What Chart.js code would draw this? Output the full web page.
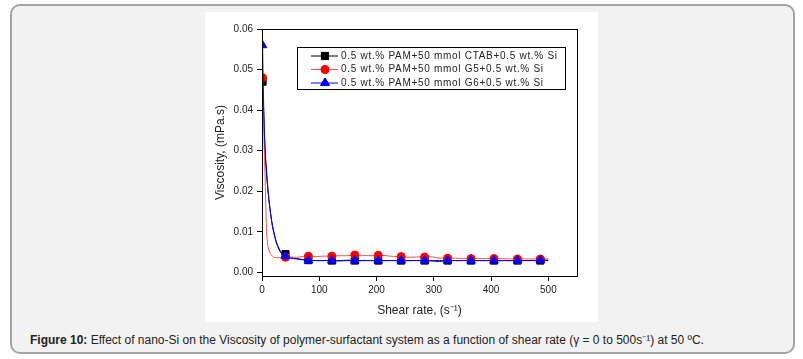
<!DOCTYPE html>
<html>
<head>
<meta charset="utf-8">
<script src="https://cdn.jsdelivr.net/npm/chart.js@4.4.1/dist/chart.umd.min.js"></script>
<style>
  body { margin: 0; background: #ffffff; width: 803px; height: 359px; overflow: hidden; position: relative; font-family: "Liberation Sans", Arial, sans-serif; }
  #panel { position: absolute; left: 10px; top: 4px; width: 781px; height: 346px; border: 2px solid #a3a3a3; border-radius: 10px; background: #f2f2f2; }
  #plotbox { position: absolute; left: 205px; top: 12px; width: 393px; height: 310px; background: #ffffff; }
  #caption { position: absolute; left: 30px; top: 331px; font-size: 12px; color: #222; white-space: nowrap; }
</style>
</head>
<body>
<div id="panel"></div>
<div id="plotbox"><canvas id="myChart" width="393" height="310"></canvas></div>
<div id="caption"><b>Figure 10:</b> Effect of nano-Si on the Viscosity of polymer-surfactant system as a function of shear rate (γ = 0 to 500s⁻¹) at 50 ºC.</div>
<script>
//Datos
var shearRate = [1, 2, 3, 4, 5, 6, 8, 10, 12, 15, 18, 21, 25, 30, 35, 41, 50, 60, 70, 81, 95, 108, 122, 135, 150, 162, 175, 190, 203, 218, 230, 243, 258, 270, 284, 297, 310, 324, 338, 350, 365, 378, 392, 405, 420, 432, 446, 460, 472, 486, 500];
var visCTAB = [0.047, 0.043, 0.039, 0.035, 0.031, 0.028, 0.024, 0.021, 0.018, 0.0145, 0.0118, 0.0098, 0.0075, 0.0058, 0.0047, 0.0045, 0.0036, 0.0034, 0.0032, 0.0030, 0.0029, 0.0029, 0.0029, 0.0029, 0.0030, 0.0029, 0.0029, 0.0029, 0.0029, 0.0029, 0.0029, 0.0029, 0.0029, 0.0029, 0.0029, 0.0028, 0.0027, 0.0029, 0.0029, 0.0029, 0.0029, 0.0029, 0.0029, 0.0029, 0.0029, 0.0029, 0.0029, 0.0029, 0.0029, 0.0029, 0.0029];
var visG5 = [0.048, 0.043, 0.036, 0.030, 0.026, 0.020, 0.010, 0.0068, 0.0055, 0.0045, 0.0040, 0.0037, 0.0036, 0.0036, 0.0037, 0.0037, 0.0038, 0.0037, 0.0039, 0.0040, 0.0039, 0.0040, 0.0040, 0.0041, 0.0041, 0.0043, 0.0042, 0.0041, 0.0042, 0.0041, 0.0039, 0.0039, 0.0037, 0.0038, 0.0038, 0.0038, 0.0035, 0.0035, 0.0035, 0.0034, 0.0034, 0.0034, 0.0034, 0.0034, 0.0034, 0.0033, 0.0033, 0.0033, 0.0033, 0.0033, 0.0033];
var visG6 = [0.056, 0.047, 0.041, 0.036, 0.032, 0.029, 0.025, 0.021, 0.018, 0.0145, 0.0115, 0.0095, 0.0073, 0.0055, 0.0045, 0.0040, 0.0035, 0.0033, 0.0031, 0.0029, 0.0029, 0.0029, 0.0029, 0.0028, 0.0029, 0.0029, 0.0029, 0.0029, 0.0029, 0.0029, 0.0029, 0.0029, 0.0029, 0.0029, 0.0029, 0.0029, 0.0029, 0.0029, 0.0029, 0.0029, 0.0029, 0.0029, 0.0029, 0.0029, 0.0029, 0.0029, 0.0029, 0.0029, 0.0029, 0.0030, 0.0030];
var markerRates = [1, 41, 81, 122, 162, 203, 243, 284, 324, 365, 405, 446, 486];
var seriesNames = ['0.5 wt.% PAM+50 mmol CTAB+0.5 wt.% Si', '0.5 wt.% PAM+50 mmol G5+0.5 wt.% Si', '0.5 wt.% PAM+50 mmol G6+0.5 wt.% Si'];
var xTicks = [0, 100, 200, 300, 400, 500];
var yTicks = [0, 0.01, 0.02, 0.03, 0.04, 0.05, 0.06];

function puntos(vals) {
      return shearRate.map(function (x, i) { return { x: x, y: vals[i] }; });
}

function radio(r) {
      return function (ctx) {
            return markerRates.indexOf(shearRate[ctx.dataIndex]) >= 0 ? r : 0;
      };
}

//Marco y leyenda dentro del area
var marcoLeyenda = {
      id: 'marcoLeyenda',
      afterDraw: function (chart) {
            var c = chart.ctx, a = chart.chartArea;
            c.save();
            c.strokeStyle = '#000';
            c.lineWidth = 1;
            c.strokeRect(a.left + 0.5, a.top + 0.5, a.right - a.left, a.bottom - a.top);
            var bx = a.left + 35, by = a.top + 18;
            c.strokeRect(bx + 0.5, by + 0.5, 268, 42);
            c.font = '10px "Liberation Sans", Arial, sans-serif';
            c.letterSpacing = '0.7px';
            c.textBaseline = 'middle';
            c.fillStyle = '#222';
            var orden = [0, 1, 2];
            orden.forEach(function (k, i) {
                  var ds = chart.data.datasets[k];
                  var yy = by + 9 + i * 13.5;
                  c.strokeStyle = ds.borderColor;
                  c.beginPath();
                  c.moveTo(bx + 14, yy);
                  c.lineTo(bx + 41, yy);
                  c.stroke();
                  Chart.helpers.drawPoint(c, { pointStyle: ds.pointStyle, radius: ds.legendRadius, borderWidth: 1 }, bx + 28, yy);
                  c.fillStyle = ds.pointBackgroundColor;
                  c.strokeStyle = ds.pointBorderColor;
                  c.beginPath();
                  Chart.helpers.drawPoint(c, { pointStyle: ds.pointStyle, radius: ds.legendRadius, borderWidth: 1 }, bx + 28, yy);
                  c.fillStyle = '#222';
                  c.fillText(ds.label, bx + 44, yy);
            });
            c.restore();
      }
};

const ctx = document.getElementById('myChart').getContext('2d');
let myChart = new Chart(ctx, {
      type: 'line',
      data: {
            datasets: [{
                  label: seriesNames[0],
                  data: puntos(visCTAB),
                  borderColor: '#000000',
                  pointBackgroundColor: '#000000',
                  pointBorderColor: '#000000',
                  pointStyle: 'rect',
                  pointRadius: radio(5),
                  legendRadius: 5,
                  borderWidth: 1,
                  tension: 0.3,
                  order: 3
            },
            {
                  label: seriesNames[1],
                  data: puntos(visG5),
                  borderColor: '#ff4d4d',
                  pointBackgroundColor: '#ff0000',
                  pointBorderColor: '#ff0000',
                  pointStyle: 'circle',
                  pointRadius: radio(4),
                  legendRadius: 4,
                  borderWidth: 1,
                  tension: 0.3,
                  order: 2
            },
            {
                  label: seriesNames[2],
                  data: puntos(visG6),
                  borderColor: '#0000ff',
                  pointBackgroundColor: '#0000ff',
                  pointBorderColor: '#0000ff',
                  pointStyle: 'triangle',
                  pointRadius: radio(5),
                  legendRadius: 5,
                  borderWidth: 1,
                  tension: 0.3,
                  order: 1
            }]
      },
      options: {
            responsive: false,
            animation: false,
            layout: { padding: { top: 17, right: 21, left: 0, bottom: 0 } },
            plugins: {
                  legend: { display: false },
                  tooltip: { enabled: false }
            },
            scales: {
                  x: {
                        type: 'linear',
                        min: 0,
                        max: 550,
                        afterBuildTicks: function (axis) { axis.ticks = xTicks.map(function (v) { return { value: v }; }); },
                        afterFit: function (axis) { axis.height = 46; },
                        ticks: { color: '#222', font: { size: 10, family: '"Liberation Sans", Arial' }, padding: 3, maxRotation: 0 },
                        grid: { drawOnChartArea: false, drawTicks: true, tickLength: 5, color: '#000' },
                        border: { display: true, color: '#000', width: 1 },
                        title: { display: true, text: 'Shear rate, (s⁻¹)', color: '#222', font: { size: 12, family: '"Liberation Sans", Arial' }, padding: { top: 4, bottom: 4 } }
                  },
                  y: {
                        min: -0.0009,
                        max: 0.06,
                        afterBuildTicks: function (axis) { axis.ticks = yTicks.map(function (v) { return { value: v }; }); },
                        afterFit: function (axis) { axis.width = 57; },
                        ticks: {
                              color: '#222', font: { size: 10, family: '"Liberation Sans", Arial' }, padding: 4,
                              callback: function (v) { return v.toFixed(2); }
                        },
                        grid: { drawOnChartArea: false, drawTicks: true, tickLength: 5, color: '#000' },
                        border: { display: true, color: '#000', width: 1 },
                        title: { display: true, text: 'Viscosity, (mPa.s)', color: '#222', font: { size: 12, family: '"Liberation Sans", Arial' }, padding: { top: 8, bottom: 4 } }
                  }
            }
      },
      plugins: [marcoLeyenda]
});
</script>
</body>
</html>
